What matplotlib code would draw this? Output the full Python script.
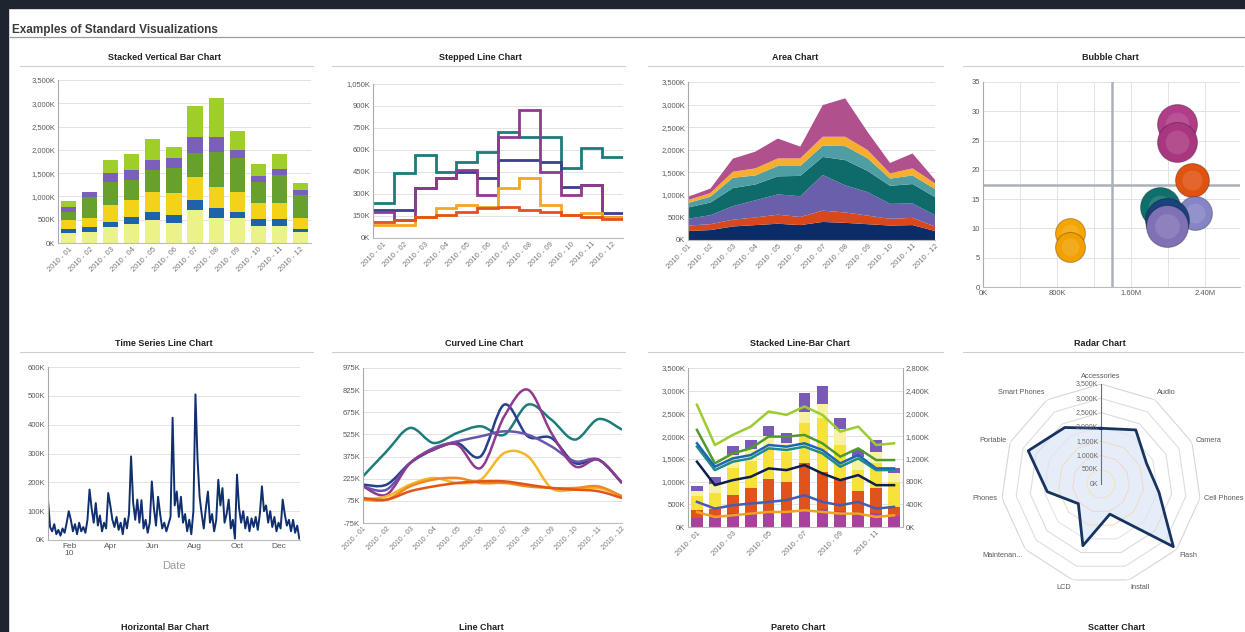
import numpy as np
import pandas as pd
import matplotlib
matplotlib.use('Agg')
import matplotlib.pyplot as plt
from matplotlib.path import Path
from matplotlib.patches import PathPatch, Rectangle
from matplotlib.lines import Line2D

plt.rcParams['font.family'] = ['Liberation Sans', 'DejaVu Sans']

W, H = 1245, 632

months = ['2010 - 01', '2010 - 02', '2010 - 03', '2010 - 04', '2010 - 05', '2010 - 06',
          '2010 - 07', '2010 - 08', '2010 - 09', '2010 - 10', '2010 - 11', '2010 - 12']

# --- Stacked vertical bar (K)
bar_pale = [210, 245, 350, 410, 495, 420, 710, 530, 530, 365, 365, 245]
bar_blue = [85, 95, 105, 155, 180, 180, 215, 215, 140, 145, 145, 50]
bar_yellow = [200, 190, 360, 355, 425, 465, 500, 465, 430, 340, 340, 235]
bar_green = [180, 465, 500, 430, 465, 540, 500, 750, 715, 465, 610, 500]
bar_purple = [105, 90, 180, 215, 215, 215, 355, 320, 180, 125, 120, 105]
bar_lime = [120, 15, 285, 345, 450, 240, 660, 830, 405, 260, 330, 155]

# --- Stepped lines (K)
step_teal = [241, 441, 566, 452, 520, 589, 725, 691, 691, 475, 611, 555]
step_navy = [191, 191, 339, 407, 452, 407, 532, 532, 520, 350, 361, 168]
step_purple = [180, 123, 339, 407, 464, 293, 691, 873, 452, 293, 361, 145]
step_orange = [89, 89, 145, 202, 225, 214, 339, 407, 225, 157, 168, 145]
step_red = [111, 123, 145, 157, 180, 202, 214, 191, 180, 157, 145, 130]

# --- Area chart layers (K)
area_navy = [200, 220, 300, 330, 360, 330, 400, 380, 350, 320, 330, 200]
area_red = [120, 130, 150, 170, 200, 180, 250, 230, 190, 150, 160, 100]
area_purple = [150, 200, 300, 380, 450, 460, 790, 600, 520, 330, 320, 250]
area_teal = [250, 280, 400, 350, 400, 450, 400, 560, 470, 400, 430, 400]
area_lteal = [100, 130, 230, 200, 230, 220, 250, 310, 280, 160, 190, 180]
area_orange = [66, 80, 133, 157, 168, 168, 198, 208, 183, 116, 157, 125]
area_plum = [70, 100, 290, 370, 440, 260, 700, 850, 400, 230, 330, 80]

# --- Bubbles: x (K), y, size
bub_x = [2100, 2100, 940, 940, 2260, 2290, 1910, 1990, 1990]
bub_y = [27.9, 24.7, 9.2, 6.8, 18.2, 12.6, 13.6, 11.4, 10.5]
bub_size = [20, 20, 15, 15, 17, 17, 20, 22, 21]
bub_colors = ['#b13c88', '#a9377f', '#f5a500', '#f2a000', '#e0520f',
              '#8584c4', '#0f6f6d', '#1a427c', '#8070b4']
bub_ref_x = 1400
bub_ref_y = 17.5

# --- Time series (K), every 3 days of 2010
ts_values = [140, 45, 30, 55, 20, 35, 15, 40, 25, 60, 100, 70, 30, 55, 20, 60, 30, 45, 25, 70,
             175, 110, 60, 128, 50, 85, 30, 60, 40, 163, 120, 70, 45, 80, 35, 60, 20, 75, 40, 90,
             290, 130, 70, 140, 60, 138, 40, 70, 25, 60, 203, 110, 50, 150, 90, 40, 60, 30, 55, 80,
             424, 120, 168, 80, 150, 60, 90, 30, 70, 20, 100, 505, 280, 150, 90, 40, 110, 168, 60, 90,
             30, 70, 209, 120, 180, 60, 90, 140, 40, 70, 5, 227, 110, 60, 100, 40, 80, 30, 75, 45,
             80, 35, 90, 186, 100, 120, 60, 100, 45, 80, 30, 60, 40, 140, 90, 50, 70, 30, 70, 25,
             50, 5]
ts_dates = pd.date_range('2010-01-01', periods=len(ts_values), freq='3D')

# --- Curved lines (K)
curve_teal = [241, 410, 569, 467, 535, 580, 523, 727, 625, 490, 629, 557]
curve_navy = [185, 185, 331, 422, 467, 377, 727, 512, 501, 331, 354, 196]
curve_purple = [173, 117, 331, 422, 456, 298, 648, 828, 535, 309, 354, 196]
curve_violet = [173, 151, 331, 433, 478, 512, 546, 523, 444, 343, 354, 196]
curve_yellow = [83, 106, 185, 230, 196, 219, 399, 377, 162, 151, 162, 106]
curve_orange = [83, 83, 173, 219, 230, 196, 196, 173, 162, 162, 173, 106]
curve_red = [94, 83, 140, 173, 196, 207, 207, 185, 162, 151, 140, 94]

# --- Stacked line-bar: bars (K, left axis)
lb_magenta = [200, 250, 300, 300, 350, 350, 400, 400, 350, 300, 300, 250]
lb_red = [180, 150, 400, 550, 700, 650, 1000, 800, 700, 500, 550, 200]
lb_yellow = [300, 350, 600, 600, 700, 650, 900, 1200, 750, 450, 550, 550]
lb_lyellow = [120, 200, 280, 260, 250, 210, 240, 310, 350, 300, 260, 190]
lb_purple = [100, 150, 200, 200, 230, 200, 400, 400, 250, 150, 250, 100]
# lines (K, right axis)
lb_line_lime = [2152, 1444, 1621, 1768, 2034, 1975, 2122, 1975, 1680, 1768, 1444, 1474]
lb_line_green = [1710, 1120, 1297, 1385, 1592, 1592, 1621, 1474, 1238, 1385, 1179, 1179]
lb_line_teal = [1415, 1002, 1150, 1208, 1385, 1356, 1415, 1297, 1061, 1208, 1002, 1002]
lb_line_blue = [1474, 1061, 1208, 1267, 1444, 1415, 1474, 1356, 1120, 1267, 1032, 1032]
lb_line_navy = [1150, 737, 825, 884, 1032, 1002, 1091, 943, 825, 914, 737, 737]
lb_line_violet = [442, 324, 383, 413, 442, 472, 560, 442, 383, 442, 324, 354]
lb_line_orange = [265, 177, 206, 236, 265, 265, 295, 265, 236, 236, 177, 206]

# --- Radar (K)
radar_cats = ['Accessories', 'Audio', 'Camera', 'Cell Phones', 'Flash', 'Install',
              'LCD', 'Maintenan...', 'Phones', 'Portable', 'Smart Phones']
radar_vals = [1950, 2250, 1750, 2050, 3350, 1100, 2250, 1050, 1900, 2800, 2350]

bottom_titles = ['Horizontal Bar Chart', 'Line Chart', 'Pareto Chart', 'Scatter Chart']

TICK = '#5a5a5a'
GRID = '#e3e3e3'


def rect(x0, y0, x1, y1):
    return [x0 / W, 1 - y1 / H, (x1 - x0) / W, (y1 - y0) / H]


def kfmt(v):
    return f"{v:,.0f}K"


def style(ax):
    ax.set_facecolor('white')
    for s in ['top', 'right']:
        ax.spines[s].set_visible(False)
    ax.spines['left'].set_color('#aaaaaa')
    ax.spines['bottom'].set_color('#bbbbbb')
    ax.spines['left'].set_linewidth(0.8)
    ax.spines['bottom'].set_linewidth(0.8)
    ax.tick_params(length=0, labelsize=5.5, labelcolor=TICK, pad=2)
    ax.grid(axis='y', color=GRID, lw=0.7)
    ax.set_axisbelow(True)


def month_ticks(ax, pos, labels, size=5.5):
    ax.set_xticks(pos)
    ax.set_xticklabels(labels, rotation=45, ha='right', rotation_mode='anchor',
                       fontsize=size, color='#777777')


def yticks_k(ax, ticks):
    ax.set_yticks(ticks)
    ax.set_yticklabels([kfmt(t) for t in ticks])


def panel_title(cx, cy, x0, x1, text):
    fig.text(cx / W, 1 - cy / H, text, ha='center', va='center', fontsize=6.5,
             fontweight='bold', color='#222222')
    fig.add_artist(Line2D([x0 / W, x1 / W], [1 - (cy + 9) / H] * 2, color='#cfcfcf', lw=0.8))


def smooth_path(xs, ys):
    pts = np.column_stack([xs, ys]).astype(float)
    n = len(pts)
    verts = [pts[0]]
    codes = [Path.MOVETO]
    for i in range(n - 1):
        p0 = pts[i - 1] if i > 0 else pts[i]
        p1, p2 = pts[i], pts[i + 1]
        p3 = pts[i + 2] if i + 2 < n else pts[i + 1]
        verts += [p1 + (p2 - p0) / 6, p2 - (p3 - p1) / 6, p2]
        codes += [Path.CURVE4] * 3
    return Path(verts, codes)


fig = plt.figure(figsize=(W / 100, H / 100), dpi=100)
fig.patch.set_facecolor('white')

# dark frame of the screenshot
fig.add_artist(Rectangle((0, 1 - 8 / H), 1, 8 / H, transform=fig.transFigure,
                         color='#1f2530', zorder=10))
fig.add_artist(Rectangle((0, 0), 8 / W, 1, transform=fig.transFigure,
                         color='#1f2530', zorder=10))

fig.text(12 / W, 1 - 30 / H, 'Examples of Standard Visualizations', fontsize=8.5,
         fontweight='bold', color='#3c3c3c', va='center')
fig.add_artist(Line2D([10 / W, 1], [1 - 37 / H] * 2, color='#9a9a9a', lw=0.9))

# titles
panel_title(164, 57, 20, 313, 'Stacked Vertical Bar Chart')
panel_title(480, 57, 332, 625, 'Stepped Line Chart')
panel_title(795, 57, 648, 943, 'Area Chart')
panel_title(1110, 57, 963, 1243, 'Bubble Chart')
panel_title(164, 343, 20, 313, 'Time Series Line Chart')
panel_title(484, 343, 332, 625, 'Curved Line Chart')
panel_title(800, 343, 648, 943, 'Stacked Line-Bar Chart')
panel_title(1100, 343, 963, 1243, 'Radar Chart')
for cx, t in zip([165, 481, 798, 1117], bottom_titles):
    fig.text(cx / W, 1 - 627 / H, t, ha='center', va='center', fontsize=6.5,
             fontweight='bold', color='#222222')

x12 = np.arange(12)

# 1. stacked vertical bar
ax1 = fig.add_axes(rect(58, 80, 311, 243))
style(ax1)
bottom = np.zeros(12)
for vals, c in zip([bar_pale, bar_blue, bar_yellow, bar_green, bar_purple, bar_lime],
                   ['#ebf28a', '#1d63a8', '#f3d21a', '#67a02c', '#7a5fbd', '#9fce2b']):
    ax1.bar(x12, vals, 0.72, bottom=bottom, color=c, lw=0)
    bottom += np.array(vals)
ax1.set_xlim(-0.5, 11.5)
ax1.set_ylim(0, 3500)
yticks_k(ax1, range(0, 3501, 500))
month_ticks(ax1, x12, months)

# 2. stepped line
ax2 = fig.add_axes(rect(373, 84, 623, 238))
style(ax2)
edges = np.arange(13)
for vals, c in zip([step_teal, step_navy, step_purple, step_orange, step_red],
                   ['#1d7b7a', '#3b3f8f', '#8e3b8e', '#f5a623', '#e2531a']):
    ax2.stairs(vals, edges, baseline=None, color=c, lw=2)
ax2.set_xlim(0, 12)
ax2.set_ylim(0, 1050)
yticks_k(ax2, range(0, 1051, 150))
month_ticks(ax2, x12 + 0.5, months)

# 3. area chart
ax3 = fig.add_axes(rect(688, 82, 935, 240))
style(ax3)
ax3.stackplot(x12, area_navy, area_red, area_purple, area_teal, area_lteal, area_orange, area_plum,
              colors=['#0c2c68', '#d9481c', '#6a5fab', '#0f6b6a', '#4f9ea3', '#f7ad2e', '#b0508c'],
              lw=0)
ax3.set_xlim(0, 11)
ax3.set_ylim(0, 3500)
yticks_k(ax3, range(0, 3501, 500))
month_ticks(ax3, x12, months)

# 4. bubble chart
ax4 = fig.add_axes(rect(983, 82, 1240, 287))
style(ax4)
ax4.set_xlim(0, 2780)
ax4.set_ylim(0, 35)
ax4.set_xticks([0, 800, 1600, 2400])
ax4.set_xticklabels(['0K', '800K', '1.60M', '2.40M'])
ax4.set_xticks(np.arange(400, 2780, 800), minor=True)
ax4.tick_params(which='minor', length=0)
ax4.set_yticks(range(0, 36, 5))
ax4.grid(axis='x', which='both', color=GRID, lw=0.7)
ax4.axvline(bub_ref_x, color='#a9b1b9', lw=1.8, zorder=1)
ax4.axhline(bub_ref_y, color='#a9b1b9', lw=1.8, zorder=1)
sizes = np.array([(1.44 * v) ** 2 for v in bub_size])
for bx, by, bs, bc in zip(bub_x, bub_y, sizes, bub_colors):
    ax4.scatter([bx], [by], s=bs, c=bc, edgecolors='#00000040', linewidths=0.8, zorder=3)
    # soft highlight for a shaded look
    ax4.scatter([bx], [by], s=bs * 0.35, c='white', alpha=0.12, lw=0, zorder=3)

# 5. time series
ax5 = fig.add_axes(rect(48, 367, 300, 540))
style(ax5)
ax5.plot(ts_dates, ts_values, color='#0f2f6f', lw=1.4)
ax5.set_xlim(pd.Timestamp('2010-01-01'), pd.Timestamp('2010-12-31'))
ax5.set_ylim(0, 600)
yticks_k(ax5, range(0, 601, 100))
ax5.set_xticks([pd.Timestamp(d) for d in ['2010-02-01', '2010-04-01', '2010-06-01',
                                          '2010-08-01', '2010-10-01', '2010-12-01']])
ax5.set_xticklabels(['Feb\n10', 'Apr', 'Jun', 'Aug', 'Oct', 'Dec'], fontsize=6, color=TICK,
                    va='top', linespacing=1.0)
ax5.set_xlabel('Date', fontsize=8, color='#9a9a9a', labelpad=3)

# 6. curved lines
ax6 = fig.add_axes(rect(363, 368, 622, 523))
style(ax6)
for vals, c in zip([curve_teal, curve_navy, curve_violet, curve_purple, curve_yellow,
                    curve_orange, curve_red],
                   ['#1d7b7a', '#24418c', '#6a55ac', '#8e3b8e', '#f7b52a', '#f08a20', '#e0551b']):
    ax6.add_patch(PathPatch(smooth_path(x12, vals), fill=False, edgecolor=c, lw=1.8))
ax6.set_xlim(0, 11)
ax6.set_ylim(-75, 975)
yticks_k(ax6, range(-75, 976, 150))
month_ticks(ax6, x12, months, size=5)

# 7. stacked line-bar
ax7 = fig.add_axes(rect(688, 368, 903, 527))
style(ax7)
bottom = np.zeros(12)
for vals, c in zip([lb_magenta, lb_red, lb_yellow, lb_lyellow, lb_purple],
                   ['#a8429c', '#e0531c', '#f7e23c', '#f7f2a0', '#7a5ab8']):
    ax7.bar(x12, vals, 0.65, bottom=bottom, color=c, lw=0)
    bottom += np.array(vals)
ax7.set_xlim(-0.5, 11.5)
ax7.set_ylim(0, 3500)
yticks_k(ax7, range(0, 3501, 500))
month_ticks(ax7, x12[::2], months[::2])
ax7r = ax7.twinx()
for s in ['top', 'left', 'bottom']:
    ax7r.spines[s].set_visible(False)
ax7r.spines['right'].set_color('#aaaaaa')
ax7r.spines['right'].set_linewidth(0.8)
ax7r.tick_params(length=0, labelsize=5.5, labelcolor=TICK, pad=2)
for vals, c in zip([lb_line_lime, lb_line_green, lb_line_teal, lb_line_blue, lb_line_navy,
                    lb_line_violet, lb_line_orange],
                   ['#9ccc2f', '#4f9a2c', '#1f8c8c', '#1f66b0', '#0d1f4f', '#4a5ab0', '#f5a020']):
    ax7r.plot(x12, vals, color=c, lw=1.8)
ax7r.set_ylim(0, 2800)
yticks_k(ax7r, range(0, 2801, 400))

# 8. radar
axr = fig.add_axes(rect(1001, 384, 1201, 584), projection='polar')
axr.set_theta_zero_location('N')
axr.set_theta_direction(-1)
axr.grid(False)
axr.spines['polar'].set_visible(False)
axr.set_xticks([])
axr.set_yticks([])
axr.set_ylim(0, 3500)
ang = np.arange(len(radar_cats)) * 2 * np.pi / len(radar_cats)
ang_c = np.append(ang, ang[0])
ring_colors = ['#f3e3b8', '#f4d5d5', '#f0dcc8', '#e1e4ec', '#dcdcdc', '#dedede', '#d6d6d6']
for r, rc in zip(range(500, 3501, 500), ring_colors):
    axr.plot(ang_c, [r] * len(ang_c), color=rc, lw=0.8)
vals_c = np.append(radar_vals, radar_vals[0])
axr.fill(ang_c, vals_c, color='#dfeaf7', alpha=0.8)
axr.plot([0, 0], [0, 3500], color='#66707c', lw=0.8)
axr.plot(ang_c, vals_c, color='#17335f', lw=2)
for r in range(0, 3501, 500):
    axr.annotate(kfmt(r), (0, r), xytext=(-2, 0), textcoords='offset points',
                 ha='right', va='center', fontsize=5, color='#666666')
for a, lab in zip(ang, radar_cats):
    s, c = np.sin(a), np.cos(a)
    ha = 'left' if s > 0.15 else ('right' if s < -0.15 else 'center')
    va = 'bottom' if c > 0.5 else ('top' if c < -0.5 else 'center')
    axr.text(a, 3650, lab, ha=ha, va=va, fontsize=5.3, color=TICK)

fig.savefig('out.png', dpi=100, facecolor='white')
